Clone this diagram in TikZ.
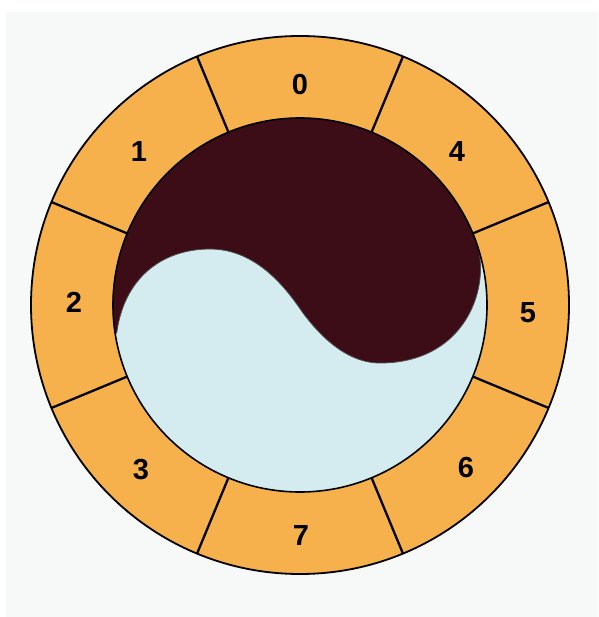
\documentclass[tikz,border=0pt]{standalone}
\usepackage{fontspec}
\setmainfont{Liberation Sans}
\definecolor{bgc}{HTML}{F7F9F9}
\definecolor{ringc}{HTML}{F6B14D}
\definecolor{yinc}{HTML}{3C0D16}
\definecolor{yangc}{HTML}{D4ECEF}
\begin{document}
\begin{tikzpicture}[x=1pt,y=-1pt,
  lab/.style={font=\fontsize{29}{29}\selectfont\bfseries, text=black, inner sep=0pt},
  divider/.style={line width=2.3pt, draw=black}]
\useasboundingbox (0,0) rectangle (598,617);
\fill[white] (0,0) rectangle (598,617);
\fill[bgc] (6,12) rectangle (598,617);
\coordinate (c) at (300,305);
\filldraw[fill=ringc, draw=black, line width=1.8pt] (c) circle[radius=269];
\fill[yangc] (c) circle[radius=187];
\filldraw[fill=yinc, draw=black!70, line width=0.8pt]
  (115,333) arc[start angle=171.4, end angle=337.4, radius=187]
  .. controls (495,275) and (472,363) .. (380,363)
  .. controls (345,363) and (318,333) .. (303,313)
  .. controls (288,291) and (258,249) .. (210,249)
  .. controls (162,249) and (124,278) .. (116.7,333) -- cycle;
\draw[line width=1.6pt] (c) circle[radius=187];
\foreach \a in {22.5,67.5,...,337.5}
  \draw[divider] ([shift={(\a:187)}]c) -- ([shift={(\a:269)}]c);
\node[lab] (l0) at (300,85) {0};
\node[lab] (l1) at (139,152) {1};
\node[lab] (l2) at (74,302) {2};
\node[lab] (l3) at (141,470) {3};
\node[lab] (l4) at (457,152) {4};
\node[lab] (l5) at (528,313) {5};
\node[lab] (l6) at (466,468) {6};
\node[lab] (l7) at (301,536) {7};
\end{tikzpicture}
\end{document}
